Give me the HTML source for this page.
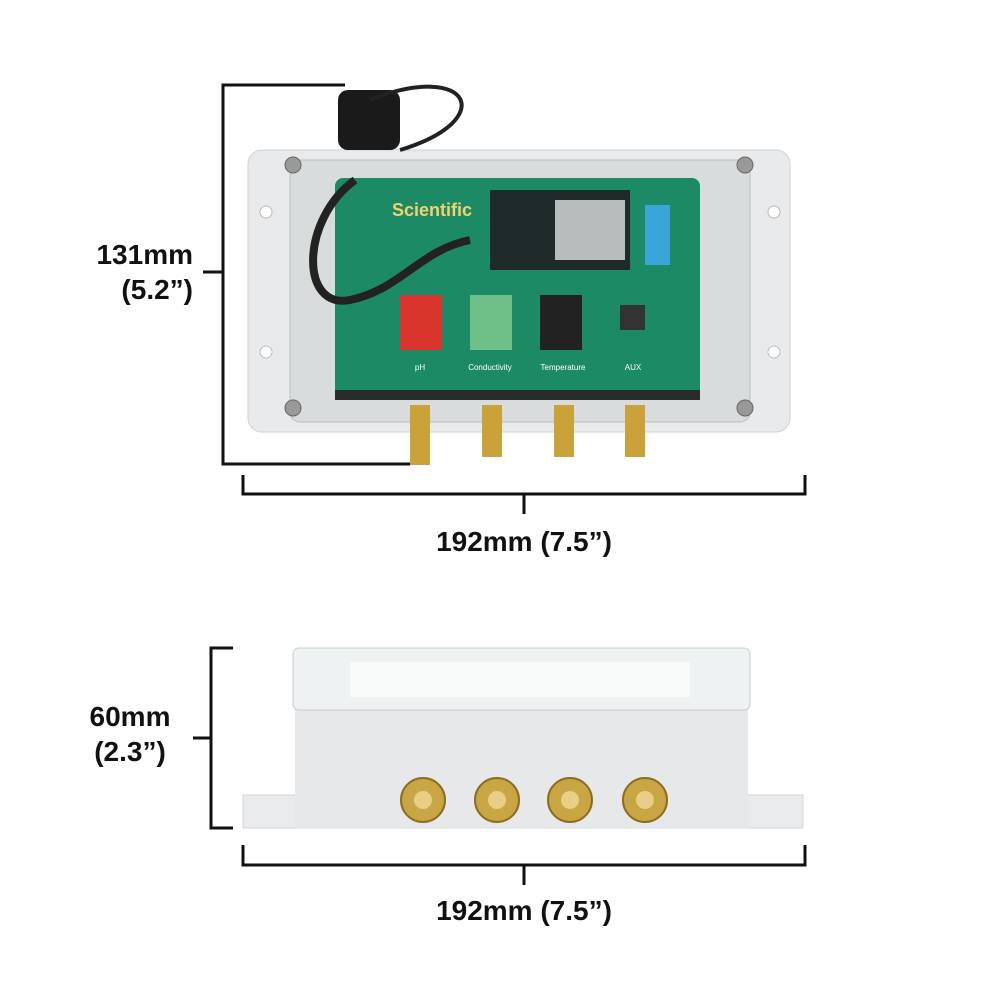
<!DOCTYPE html>
<html><head><meta charset="utf-8"><style>
html,body{margin:0;padding:0;background:#fff;}
body{width:1000px;height:1000px;position:relative;overflow:hidden;font-family:"Liberation Sans",sans-serif;}
.t{position:absolute;font-weight:900;color:#111;font-size:28px;text-align:center;line-height:35px;}
</style></head><body>
<svg width="1000" height="1000" style="position:absolute;left:0;top:0">
<g stroke="#111" stroke-width="3" fill="none">
<polyline points="345,85 223,85 223,464 410,464"/>
<line x1="203" y1="272" x2="223" y2="272"/>
<polyline points="243,475 243,494 805,494 805,475"/>
<line x1="524" y1="494" x2="524" y2="514"/>
<polyline points="233,648 211,648 211,828 233,828"/>
<line x1="193" y1="738" x2="211" y2="738"/>
<polyline points="243,845 243,865 805,865 805,845"/>
<line x1="524" y1="865" x2="524" y2="885"/>
</g>
<rect x="248" y="150" width="542" height="282" rx="14" fill="#e8eaeb" stroke="#cfd2d4"/>
<rect x="290" y="160" width="460" height="262" rx="10" fill="#d8dcdd" stroke="#b9bdbf"/>
<rect x="335" y="178" width="365" height="220" rx="8" fill="#1d8a66"/>
<rect x="335" y="390" width="365" height="10" fill="#2b2b2b"/>
<rect x="490" y="190" width="140" height="80" fill="#1f2a2a"/>
<rect x="555" y="200" width="70" height="60" fill="#b8bcbd"/>
<rect x="645" y="205" width="25" height="60" fill="#3aa5d8"/>
<rect x="400" y="295" width="42" height="55" fill="#d8342b"/>
<rect x="470" y="295" width="42" height="55" fill="#6fbf88"/>
<rect x="540" y="295" width="42" height="55" fill="#222"/>
<rect x="620" y="305" width="25" height="25" fill="#333"/>
<text x="392" y="216" font-family="Liberation Sans" font-weight="bold" font-size="18" fill="#f2d26a">Scientific</text>
<g font-family="Liberation Sans" font-size="8" fill="#fff" text-anchor="middle">
<text x="420" y="370">pH</text><text x="490" y="370">Conductivity</text><text x="563" y="370">Temperature</text><text x="633" y="370">AUX</text></g>
<g fill="#999" stroke="#666"><circle cx="293" cy="165" r="8"/><circle cx="745" cy="165" r="8"/><circle cx="293" cy="408" r="8"/><circle cx="745" cy="408" r="8"/></g>
<g fill="#fff" stroke="#bbb"><circle cx="266" cy="212" r="6"/><circle cx="266" cy="352" r="6"/><circle cx="774" cy="212" r="6"/><circle cx="774" cy="352" r="6"/></g>
<rect x="338" y="90" width="62" height="60" rx="10" fill="#1a1a1a"/>
<path d="M370,100 C470,60 500,120 400,150" stroke="#222" stroke-width="4" fill="none"/>
<path d="M355,180 C300,220 300,310 350,300 C400,290 420,250 470,240" stroke="#222" stroke-width="8" fill="none"/>
<g fill="#c9a23a"><rect x="410" y="405" width="20" height="60"/><rect x="482" y="405" width="20" height="52"/><rect x="554" y="405" width="20" height="52"/><rect x="625" y="405" width="20" height="52"/></g>
<rect x="243" y="795" width="560" height="33" fill="#e9ebec" stroke="#d4d6d8"/>
<rect x="295" y="705" width="453" height="123" fill="#e6e8e9"/>
<rect x="293" y="648" width="457" height="62" rx="6" fill="#eef2f3" stroke="#c7ccce"/>
<rect x="350" y="662" width="340" height="35" fill="#f8fafa"/>
<g fill="#c9a544" stroke="#8a6d20" stroke-width="2">
<circle cx="423" cy="800" r="22"/><circle cx="497" cy="800" r="22"/><circle cx="570" cy="800" r="22"/><circle cx="645" cy="800" r="22"/></g>
<g fill="#e7cf86"><circle cx="423" cy="800" r="9"/><circle cx="497" cy="800" r="9"/><circle cx="570" cy="800" r="9"/><circle cx="645" cy="800" r="9"/></g>
</svg>
<div class="t" style="left:33px;top:237px;width:160px;text-align:right;">131mm<br>(5.2”)</div>
<div class="t" style="left:374px;top:524px;width:300px;">192mm (7.5”)</div>
<div class="t" style="left:60px;top:699px;width:140px;">60mm<br>(2.3”)</div>
<div class="t" style="left:374px;top:893px;width:300px;">192mm (7.5”)</div>
</body></html>
